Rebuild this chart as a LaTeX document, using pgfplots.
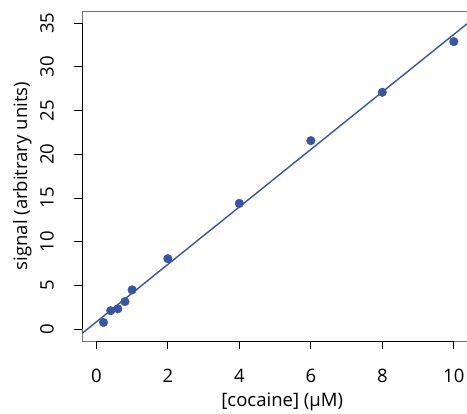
\documentclass[border=0pt]{standalone}
\usepackage{fontspec}
\setmainfont{Open Sans}
\usepackage{pgfplots}
\pgfplotsset{compat=1.18}
\definecolor{ptblue}{RGB}{58,84,164}
\newcommand{\chartfont}{\fontsize{18.5}{22}\selectfont}

% calibration data: signal vs. cocaine concentration
\pgfplotstableread{
conc  signal
0.2   0.76
0.4   2.10
0.6   2.32
0.8   3.14
1.0   4.49
2.0   8.06
4.0   14.39
6.0   21.56
8.0   27.10
10.0  32.90
}\caldata

\begin{document}
\begin{tikzpicture}
\path[use as bounding box] (-82pt,-72pt) rectangle (384.6pt,341pt);
\begin{axis}[
  at={(0pt,0pt)}, anchor=south west,
  scale only axis, width=385.7pt, height=330pt,
  xmin=-0.4, xmax=10.4, ymin=-1.4, ymax=36.4,
  xtick={0,2,...,10}, ytick={0,5,...,35},
  tick align=outside, major tick length=8pt,
  xtick pos=bottom, ytick pos=left,
  axis line style={black!55, line width=1pt},
  tick style={black, line width=0.9pt},
  /pgf/number format/assume math mode=true,
  tick label style={font=\chartfont},
  label style={font=\chartfont},
  xticklabel style={inner sep=0pt, anchor=north},
  yticklabel style={inner sep=0pt, rotate=90, anchor=south},
  xticklabel shift=20pt, yticklabel shift=20pt,
  xlabel={[cocaine] (µM)},
  ylabel={signal (arbitrary units)},
  xlabel style={at={(axis description cs:0.5185,0)}, anchor=center, inner sep=0pt, yshift=-60.5pt},
  ylabel style={at={([xshift=-55pt]axis description cs:0,0.5)}, anchor=base, inner sep=0pt},
]
% R-style axis lines running from the first to the last tick
\draw[black, line width=1pt] (axis cs:0,-1.4) -- (axis cs:10,-1.4);
\draw[black, line width=1pt] (axis cs:-0.4,0) -- (axis cs:-0.4,35);
% least-squares fit: signal = 3.29*conc + 0.82
\addplot[ptblue, line width=1.4pt] coordinates {(-0.4,-0.496) (10.4,35.036)};
\addplot[only marks, mark=*, mark size=4.3pt, color=ptblue, mark options={draw=none, fill=ptblue}]
  table[x=conc, y=signal] {\caldata};
\end{axis}
\end{tikzpicture}
\end{document}
